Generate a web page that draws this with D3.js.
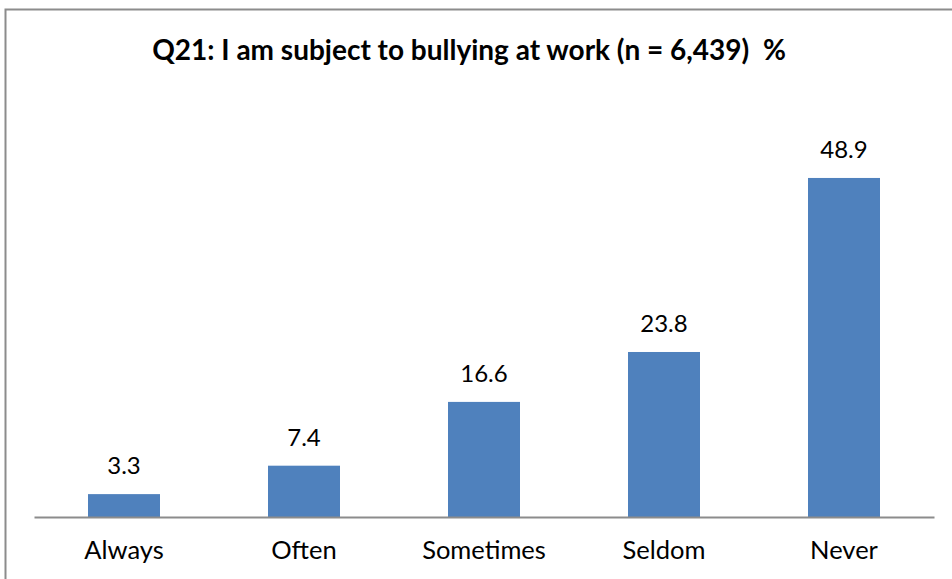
<!DOCTYPE html>
<html>
<head>
<meta charset="utf-8">
<script src="https://cdn.jsdelivr.net/npm/d3@7"></script>
<style>
  html, body { margin: 0; padding: 0; background: #fff; }
  svg { display: block; }
  text { font-family: Lato, "Open Sans", sans-serif; fill: #000; }
</style>
</head>
<body>
<svg id="chart" width="952" height="579"></svg>
<script>
const categories = ["Always", "Often", "Sometimes", "Seldom", "Never"];
const values = [3.3, 7.4, 16.6, 23.8, 48.9];
const title = "Q21: I am subject to bullying at work (n = 6,439)  %";

const svg = d3.select("#chart");
const W = 952, H = 579;

// outer chart frame
svg.append("rect")
  .attr("x", 5.5).attr("y", 9.5)
  .attr("width", W + 10).attr("height", H + 10)
  .attr("fill", "#fff")
  .attr("stroke", "#8c8c8c")
  .attr("stroke-width", 2);

const x = d3.scaleBand()
  .domain(categories)
  .range([34, 934])
  .paddingInner(0.6)
  .paddingOuter(0.3);

const y = d3.scaleLinear()
  .domain([0, 60])
  .range([517, 101]);

// bars
svg.append("g").selectAll("rect")
  .data(values)
  .join("rect")
  .attr("x", (d, i) => x(categories[i]))
  .attr("y", d => y(d))
  .attr("width", x.bandwidth())
  .attr("height", d => y(0) - y(d))
  .attr("fill", "#4f81bd");

// value labels
svg.append("g").selectAll("text")
  .data(values)
  .join("text")
  .attr("x", (d, i) => x(categories[i]) + x.bandwidth() / 2)
  .attr("y", d => y(d) - 20)
  .attr("text-anchor", "middle")
  .attr("font-size", 24)
  .text(d => d.toFixed(1));

// category axis
const xAxis = d3.axisBottom(x).tickSize(0).tickPadding(24);
const gx = svg.append("g")
  .attr("transform", `translate(0,${y(0)})`)
  .call(xAxis);
gx.select(".domain").attr("stroke", "#8c8c8c").attr("stroke-width", 2);
gx.selectAll(".tick text")
  .attr("font-size", 25.5)
  .attr("font-family", "Lato, 'Open Sans', sans-serif")
  .attr("fill", "#000");

// title
svg.append("text")
  .attr("x", 469)
  .attr("y", 60)
  .attr("text-anchor", "middle")
  .attr("font-size", 28)
  .attr("font-weight", "bold")
  .style("white-space", "pre")
  .text(title);
</script>
</body>
</html>
